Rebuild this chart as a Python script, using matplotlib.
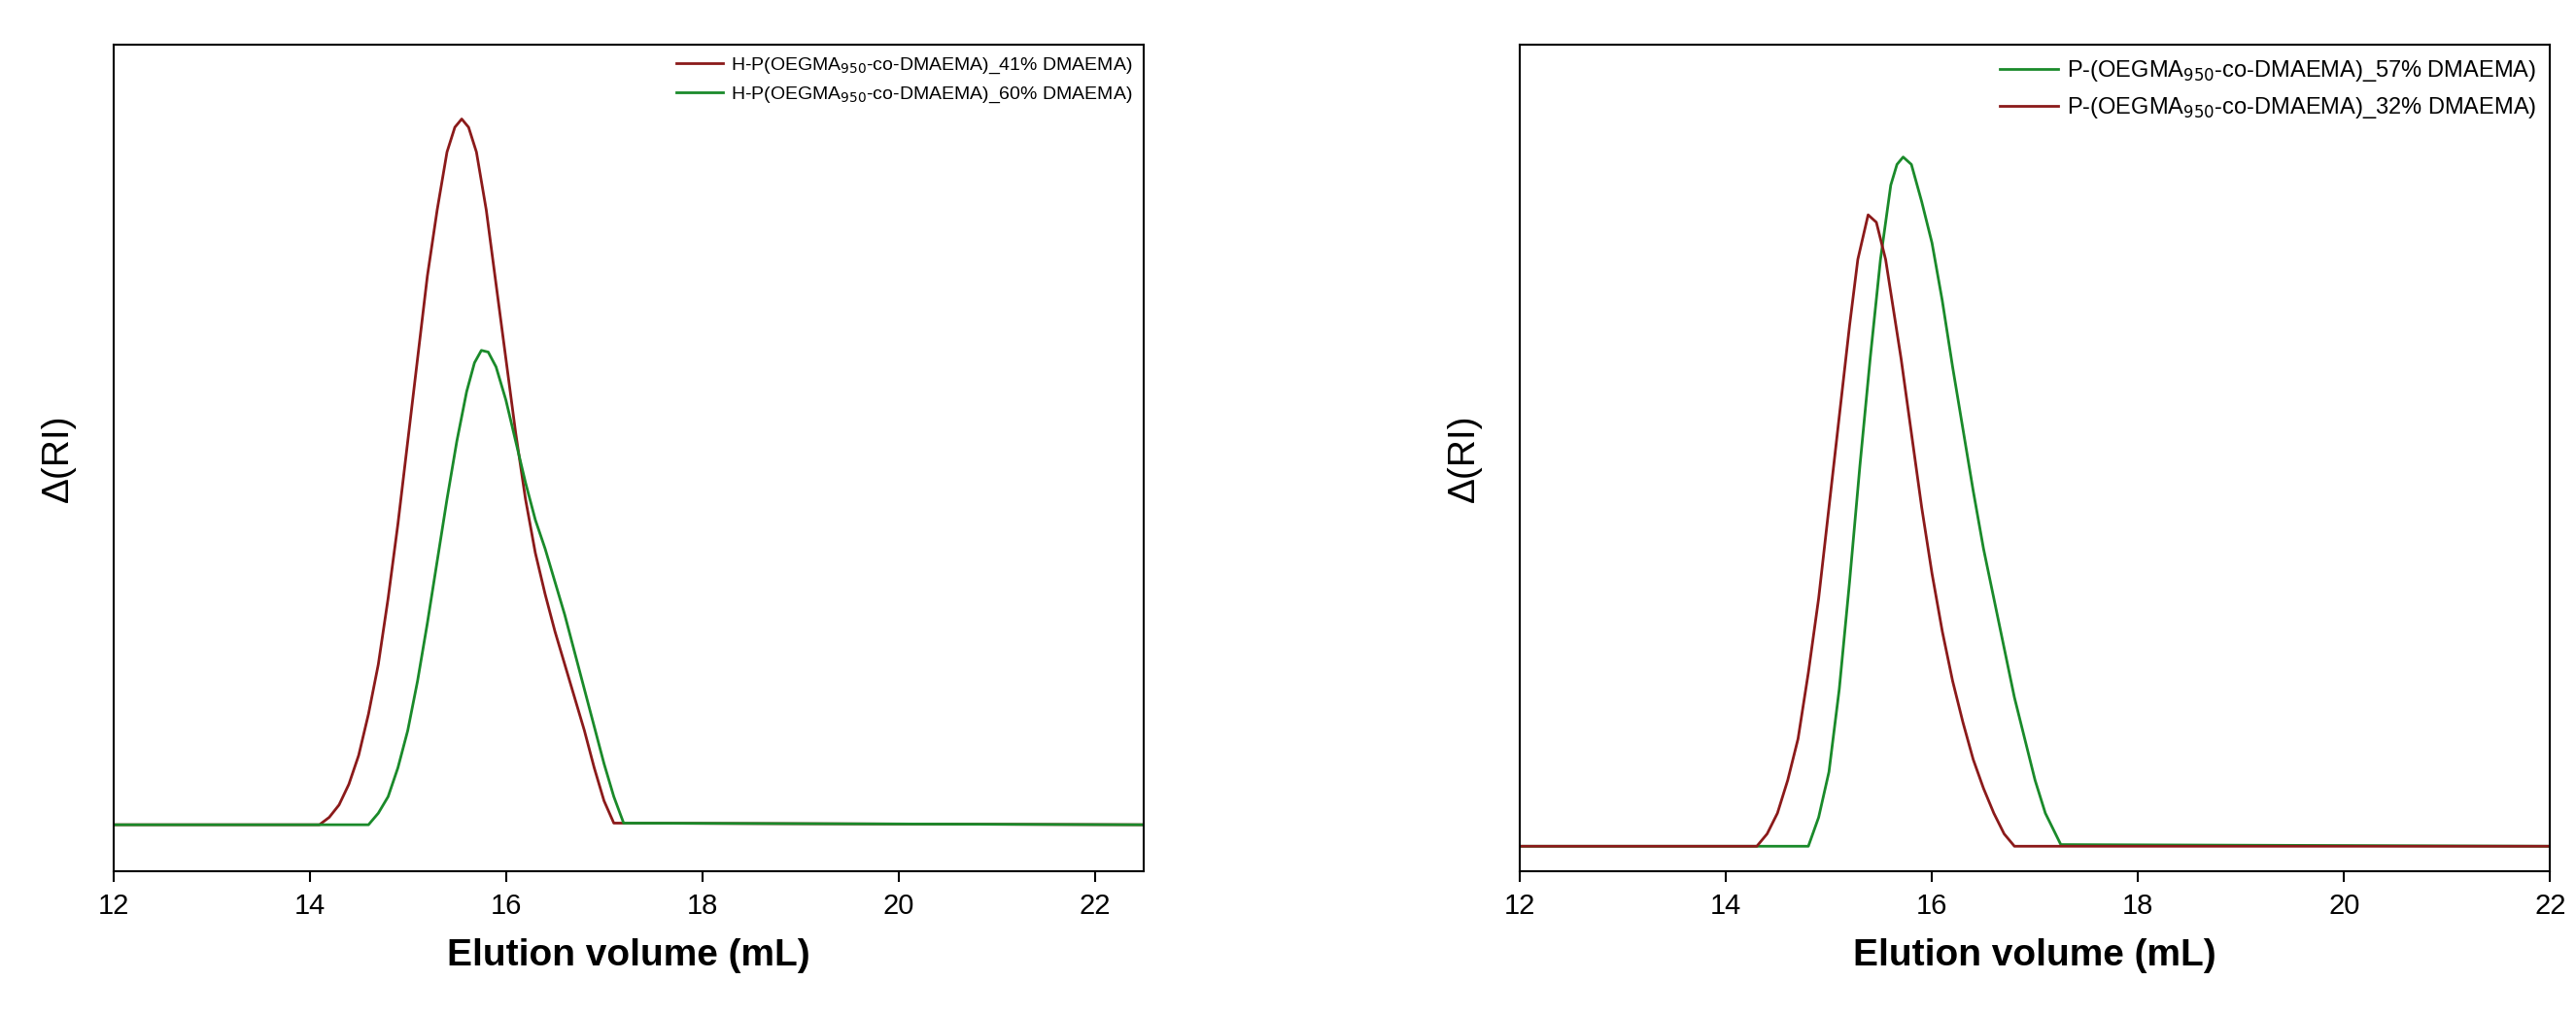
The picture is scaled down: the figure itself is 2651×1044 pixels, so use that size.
import matplotlib.pyplot as plt

plt.rcParams['font.family'] = ['Liberation Sans', 'DejaVu Sans']

# left panel
left_red_x = [12, 14.1, 14.2, 14.3, 14.4, 14.5, 14.6, 14.7, 14.8, 14.9, 15.0, 15.1, 15.2, 15.3, 15.4, 15.48, 15.55, 15.62, 15.7, 15.8, 15.9, 16.0, 16.1, 16.2, 16.3, 16.4, 16.5, 16.6, 16.7, 16.8, 16.9, 17.0, 17.1, 22.5]
left_red_y = [0.056, 0.056, 0.065, 0.08, 0.105, 0.14, 0.19, 0.25, 0.33, 0.42, 0.52, 0.62, 0.72, 0.80, 0.87, 0.90, 0.91, 0.90, 0.87, 0.80, 0.71, 0.62, 0.53, 0.45, 0.385, 0.335, 0.29, 0.25, 0.21, 0.17, 0.125, 0.085, 0.058, 0.056]
left_green_x = [12, 14.6, 14.7, 14.8, 14.9, 15.0, 15.1, 15.2, 15.3, 15.4, 15.5, 15.6, 15.68, 15.75, 15.82, 15.9, 16.0, 16.1, 16.2, 16.3, 16.4, 16.5, 16.6, 16.7, 16.8, 16.9, 17.0, 17.1, 17.2, 22.5]
left_green_y = [0.056, 0.056, 0.07, 0.09, 0.125, 0.17, 0.23, 0.30, 0.375, 0.45, 0.52, 0.58, 0.615, 0.63, 0.628, 0.61, 0.57, 0.52, 0.47, 0.425, 0.39, 0.35, 0.31, 0.265, 0.22, 0.175, 0.13, 0.09, 0.058, 0.056]

# right panel
right_red_x = [12, 14.3, 14.4, 14.5, 14.6, 14.7, 14.8, 14.9, 15.0, 15.1, 15.2, 15.28, 15.38, 15.46, 15.55, 15.7, 15.8, 15.9, 16.0, 16.1, 16.2, 16.3, 16.4, 16.5, 16.6, 16.7, 16.8, 22]
right_red_y = [0.03, 0.03, 0.045, 0.07, 0.11, 0.16, 0.24, 0.33, 0.44, 0.55, 0.66, 0.74, 0.794, 0.785, 0.74, 0.62, 0.53, 0.44, 0.36, 0.29, 0.23, 0.18, 0.135, 0.10, 0.07, 0.045, 0.03, 0.03]
right_green_x = [12, 14.8, 14.9, 15.0, 15.1, 15.2, 15.3, 15.4, 15.5, 15.6, 15.66, 15.72, 15.8, 15.9, 16.0, 16.1, 16.2, 16.3, 16.4, 16.5, 16.6, 16.7, 16.8, 16.9, 17.0, 17.1, 17.25, 22]
right_green_y = [0.03, 0.03, 0.065, 0.12, 0.22, 0.35, 0.49, 0.62, 0.74, 0.83, 0.855, 0.864, 0.855, 0.81, 0.76, 0.69, 0.61, 0.535, 0.46, 0.39, 0.33, 0.27, 0.21, 0.16, 0.11, 0.07, 0.032, 0.03]

RED = '#8b1a1a'
GREEN = '#1a8a2a'

fig = plt.figure(figsize=(26.51, 10.44), dpi=100)
ax1 = fig.add_axes([0.044, 0.141, 0.40, 0.815])
ax2 = fig.add_axes([0.59, 0.141, 0.40, 0.815])

ax1.plot(left_red_x, left_red_y, color=RED, lw=2,
         label=r'H-P(OEGMA$_{950}$-co-DMAEMA)_41% DMAEMA)')
ax1.plot(left_green_x, left_green_y, color=GREEN, lw=2,
         label=r'H-P(OEGMA$_{950}$-co-DMAEMA)_60% DMAEMA)')
ax1.set_xlim(12, 22.5)

ax2.plot(right_green_x, right_green_y, color=GREEN, lw=2,
         label=r'P-(OEGMA$_{950}$-co-DMAEMA)_57% DMAEMA)')
ax2.plot(right_red_x, right_red_y, color=RED, lw=2,
         label=r'P-(OEGMA$_{950}$-co-DMAEMA)_32% DMAEMA)')
ax2.set_xlim(12, 22)

for ax, fs in ((ax1, 14), (ax2, 17)):
    ax.set_ylim(0, 1)
    ax.set_yticks([])
    ax.set_xticks([12, 14, 16, 18, 20, 22])
    ax.tick_params(axis='x', labelsize=21, length=8, width=1.5, pad=8)
    for s in ax.spines.values():
        s.set_linewidth(1.5)
    ax.set_xlabel('Elution volume (mL)', fontsize=28, fontweight='bold', labelpad=14)
    ax.set_ylabel('Δ(RI)', fontsize=28, labelpad=28)
    ax.legend(loc='upper right', frameon=False, fontsize=fs, handlelength=2.5,
              borderaxespad=0.2, handletextpad=0.4)

plt.savefig('out.png')
